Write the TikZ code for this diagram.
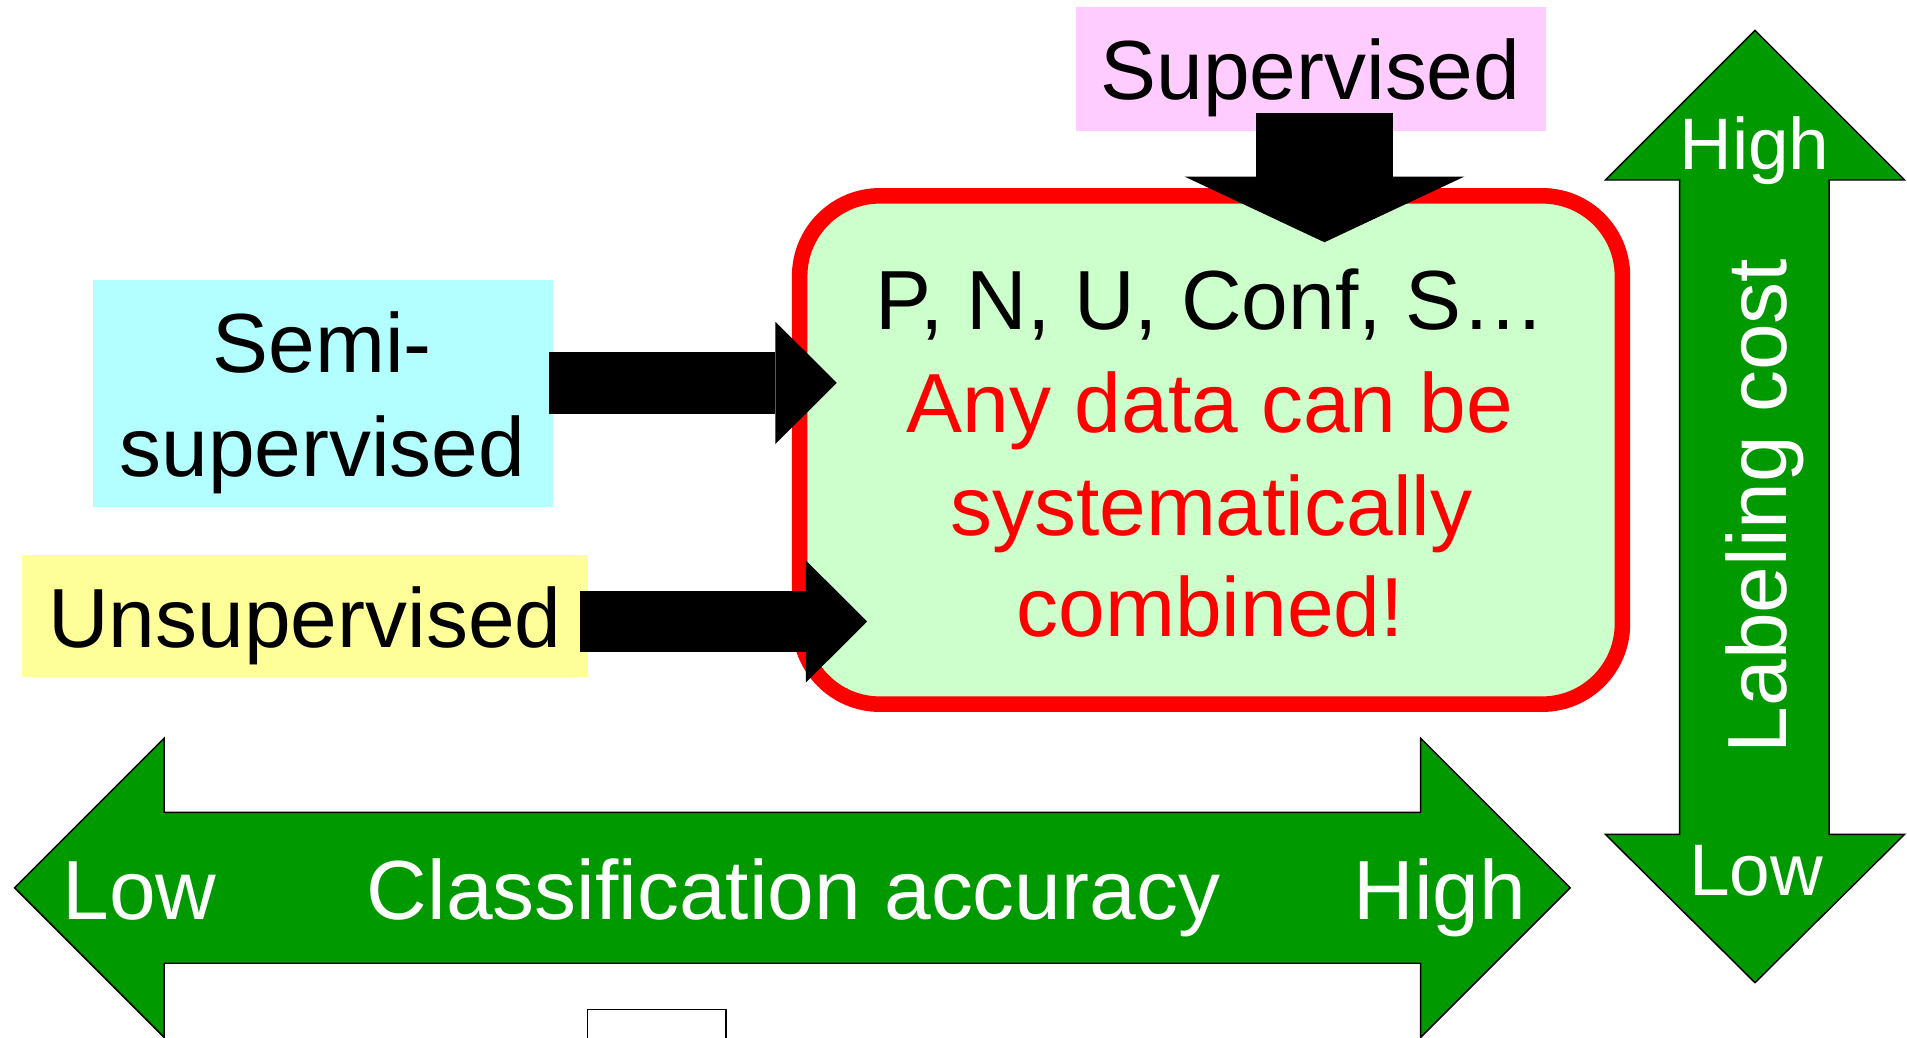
\documentclass[tikz,border=0pt]{standalone}
\usepackage{fontspec}
\setmainfont{Liberation Sans}
\usetikzlibrary{arrows.meta}

\definecolor{supfill}{RGB}{255,204,255}
\definecolor{semifill}{RGB}{179,255,255}
\definecolor{unsupfill}{RGB}{255,255,153}
\definecolor{datafill}{RGB}{204,255,204}
\definecolor{costgreen}{RGB}{0,153,0}

\tikzset{every picture/.style={line width=0.75pt}}
\tikzset{
box/.style={inner sep=0pt, outer sep=0pt},
lbl/.style={inner sep=0pt, anchor=base, font=\fontsize{34.5}{41}\selectfont},
smlbl/.style={inner sep=0pt, anchor=base, font=\fontsize{30}{36}\selectfont},
greenarrow/.style={fill=costgreen, draw=black, line width=0.6pt, line join=miter},
sidearrow/.style={line width=25.2pt, -{Triangle[length=25.2pt,width=50.2pt,line width=0pt]}},
downarrow/.style={line width=56.5pt, -{Triangle[length=27pt,width=115pt,line width=0pt]}}
}

\begin{document}
\begin{tikzpicture}[x=0.5pt,y=0.5pt,yscale=-1,xscale=1]
\useasboundingbox (0,0) rectangle (1568,853);

%Shape: Left-Right Arrow
\draw [greenarrow] (12,730) -- (135,607) -- (135,668) -- (1168,668) -- (1168,607) -- (1291,730) -- (1168,853) -- (1168,792) -- (135,792) -- (135,853) -- cycle ;
%Shape: Up-Down Arrow
\draw [greenarrow] (1443,25) -- (1566,148) -- (1504,148) -- (1504,686) -- (1566,686) -- (1443,808) -- (1320,686) -- (1381,686) -- (1381,148) -- (1320,148) -- cycle ;
%Shape: Rectangle
\draw [fill=white, line width=0.6pt] (483,830) rectangle (597,870) ;

%Shape: Boxes
\node [box, fill=supfill, minimum width=193pt, minimum height=50.75pt] (sup) at (1078,56.75) {};
\node [box, fill=semifill, minimum width=189.1pt, minimum height=93.2pt] (semi) at (265.6,323.4) {};
\node [box, fill=unsupfill, minimum width=232.85pt, minimum height=50.3pt] (unsup) at (250.75,506.6) {};
\node [box, draw=red, fill=datafill, line width=6.4pt, rounded corners=33pt, minimum width=338.25pt, minimum height=209pt] (data) at (995.75,370) {};

%Block arrows
\coordinate (supin) at (1089,199.2);
\coordinate (semiin) at (688,314.8);
\coordinate (unsupin) at (713,511);
\draw [downarrow] (sup.south -| supin) ++(0,-15) -- (supin) ;
\draw [sidearrow] (semi.east |- semiin) ++(-3,0) -- (semiin) ;
\draw [sidearrow] (unsup.east |- unsupin) ++(-6.6,0) -- (unsupin) ;

% Text Node
\node [lbl] (suptxt) at (1077.5,82) {Supervised};
% Text Node
\node [lbl] (semitxta) at (265,306.4) {Semi-};
\node [lbl] (semitxtb) at (265,391.4) {supervised};
% Text Node
\node [lbl] (unsuptxt) at (250.7,532.5) {Unsupervised};
% Text Node
\node [lbl] (datatxta) at (995,271.3) {P, N, U, Conf, S…};
\node [lbl, text=red] (datatxtb) at (995,355.5) {Any data can be};
\node [lbl, text=red] (datatxtc) at (996,439.9) {systematically};
\node [lbl, text=red] (datatxtd) at (995,523.5) {combined!};
% Text Node
\node [lbl, text=white, rotate=90] (costtxt) at (1469,416) {Labeling cost};
\node [smlbl, text=white] (costhigh) at (1442.5,139) {High};
\node [smlbl, text=white] (costlow) at (1444,736.7) {Low};
% Text Node
\node [lbl, text=white] (acclow) at (114.8,756.4) {Low};
\node [lbl, text=white] (acctxt) at (652.5,756.4) {Classification accuracy};
\node [lbl, text=white] (acchigh) at (1184,756.4) {High};

\end{tikzpicture}
\end{document}
